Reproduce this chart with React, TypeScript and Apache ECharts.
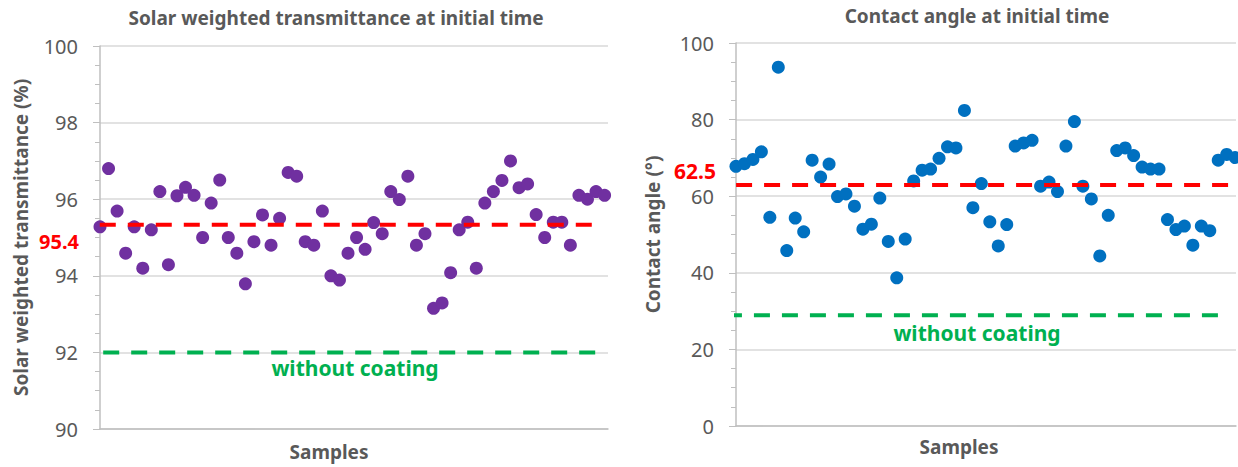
import React, { useEffect, useRef } from "react";
import * as echarts from "echarts";

const transmittance = [
  95.28, 96.8, 95.69, 94.59, 95.28, 94.2, 95.2, 96.2, 94.29, 96.09,
  96.31, 96.1, 95.0, 95.9, 96.5, 95.0, 94.59, 93.79, 94.89, 95.59,
  94.8, 95.5, 96.7, 96.6, 94.89, 94.8, 95.69, 94.0, 93.89, 94.59,
  95.0, 94.69, 95.39, 95.1, 96.2, 95.99, 96.6, 94.8, 95.1, 93.15,
  93.29, 94.08, 95.2, 95.4, 94.2, 95.9, 96.2, 96.49, 97.0, 96.3,
  96.4, 95.6, 95.0, 95.4, 95.4, 94.8, 96.1, 96.0, 96.2, 96.1,
];

const contactAngle = [
  67.8, 68.5, 69.6, 71.6, 54.5, 93.7, 45.8, 54.3, 50.7, 69.4,
  65.0, 68.4, 59.9, 60.6, 57.4, 51.4, 52.7, 59.5, 48.2, 38.7,
  48.8, 64.0, 66.8, 67.1, 69.9, 72.9, 72.6, 82.4, 57.0, 63.3,
  53.3, 47.0, 52.6, 73.1, 73.9, 74.6, 62.6, 63.7, 61.2, 73.1,
  79.5, 62.6, 59.3, 44.4, 55.0, 71.9, 72.6, 70.6, 67.6, 67.1,
  67.1, 53.9, 51.3, 52.2, 47.2, 52.2, 51.0, 69.4, 70.9, 70.1,
];

const leftMeanLine = 95.33;
const leftMeanLabel = "95.4";
const leftUncoated = 92.0;
const rightMeanLine = 62.9;
const rightMeanLabel = "62.5";
const rightUncoated = 28.9;

const leftTicks = { min: 90, max: 100, interval: 2 };
const rightTicks = { min: 0, max: 100, interval: 20 };

const FONT = "Noto Sans";
const GRAY = "#595959";

export default function App() {
  const ref = useRef<HTMLDivElement>(null);
  useEffect(() => {
    if (!ref.current) return;
    const chart = echarts.init(ref.current, null, { renderer: "svg" });

    const yAxisCommon = (name: string, gap: number) => ({
      type: "value",
      name,
      nameLocation: "middle",
      nameGap: gap,
      nameTextStyle: { color: GRAY, fontFamily: FONT, fontWeight: "bold", fontSize: 19 },
      axisLine: { show: true, lineStyle: { color: "#BFBFBF", width: 1.5 } },
      axisTick: { show: true, length: 7, lineStyle: { color: "#BFBFBF" } },
      minorTick: { show: true, splitNumber: 4, length: 5, lineStyle: { color: "#BFBFBF" } },
      splitLine: { show: true, lineStyle: { color: "#D9D9D9", width: 1.5 } },
      axisLabel: { color: GRAY, fontFamily: FONT, fontSize: 20, margin: 22 },
    });

    const xAxisCommon = (max: number) => ({
      type: "value",
      min: 0,
      max,
      axisLine: { show: true, onZero: false, lineStyle: { color: "#BFBFBF", width: 1.5 } },
      axisTick: { show: false },
      axisLabel: { show: false },
      splitLine: { show: false },
    });

    const idx = (arr: number[]) => arr.map((v, i) => [i, v]);

    const dashed = (xi: number, yi: number, x0: number, x1: number, y: number, color: string) => ({
      type: "line",
      xAxisIndex: xi,
      yAxisIndex: yi,
      data: [[x0, y], [x1, y]],
      symbol: "none",
      clip: false,
      z: 5,
      lineStyle: { color, width: 4, type: [16, 12] },
      silent: true,
    });

    const txt = (x: number, y: number, text: string, fill: string, size: number, align = "center") => ({
      type: "text",
      x,
      y,
      style: { text, fill, font: `bold ${size}px '${FONT}'`, align, verticalAlign: "middle" },
    });

    chart.setOption({
      animation: false,
      grid: [
        { left: 100, top: 46, width: 508, height: 383 },
        { left: 736, top: 43, width: 500, height: 383 },
      ],
      xAxis: [
        { ...xAxisCommon(59.4), gridIndex: 0 },
        { ...xAxisCommon(59.1), gridIndex: 1 },
      ],
      yAxis: [
        { ...yAxisCommon("Solar weighted transmittance (%)", 70), gridIndex: 0, ...leftTicks },
        { ...yAxisCommon("Contact angle (°)", 74), gridIndex: 1, ...rightTicks },
      ],
      series: [
        {
          type: "scatter",
          xAxisIndex: 0,
          yAxisIndex: 0,
          data: idx(transmittance),
          symbolSize: 13,
          itemStyle: { color: "#7030A0", opacity: 1 },
          z: 3,
        },
        {
          type: "scatter",
          xAxisIndex: 1,
          yAxisIndex: 1,
          data: idx(contactAngle),
          symbolSize: 13,
          itemStyle: { color: "#0070C0", opacity: 1 },
          z: 3,
        },
        dashed(0, 0, -3.3, 58.3, leftMeanLine, "#FF0000"),
        dashed(0, 0, -2.9, 58.3, leftUncoated, "#00B050"),
        dashed(1, 1, -3.3, 59.2, rightMeanLine, "#FF0000"),
        dashed(1, 1, -4.5, 57.7, rightUncoated, "#00B050"),
      ],
      graphic: [
        txt(336, 18, "Solar weighted transmittance at initial time", GRAY, 19),
        txt(977, 16, "Contact angle at initial time", GRAY, 19),
        txt(329, 452, "Samples", GRAY, 19),
        txt(959, 447, "Samples", GRAY, 19),
        txt(79, 241, leftMeanLabel, "#FF0000", 20, "right"),
        txt(716, 171, rightMeanLabel, "#FF0000", 21, "right"),
        txt(355, 368, "without coating", "#00B050", 21),
        txt(977, 333, "without coating", "#00B050", 21),
      ],
    });
    return () => chart.dispose();
  }, []);
  return (
    <div
      ref={ref}
      style={{ position: "fixed", left: 0, top: 0, width: 1238, height: 467, background: "#fff" }}
    />
  );
}
